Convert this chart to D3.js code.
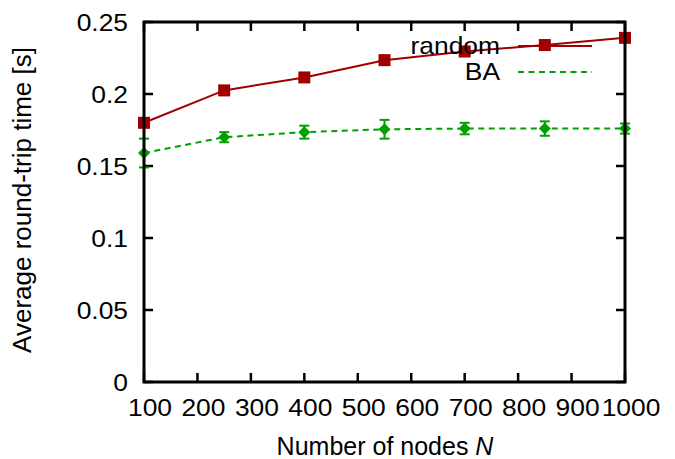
<!DOCTYPE html>
<html>
<head>
<meta charset="utf-8">
<script src="https://cdn.jsdelivr.net/npm/d3@7"></script>
<style>
  body { margin: 0; background: #fff; }
  text { font-family: "Liberation Sans", Arial, sans-serif; fill: #000; }
</style>
</head>
<body>
<svg id="chart" width="675" height="459"></svg>
<script>
// data
const nodes = [100, 250, 400, 550, 700, 850, 1000];
const randomRtt = [0.180, 0.2025, 0.2115, 0.2235, 0.2295, 0.234, 0.239];
const baRtt = [0.159, 0.1700, 0.1735, 0.1755, 0.1760, 0.1760, 0.1760];
const baErr = [0.010, 0.0035, 0.0045, 0.0065, 0.004, 0.005, 0.0035];
const xTicks = [100, 200, 300, 400, 500, 600, 700, 800, 900, 1000];
const yTicks = [0, 0.05, 0.1, 0.15, 0.2, 0.25];

const margin = {top: 22, right: 50, bottom: 77, left: 144};
const width = 675 - margin.left - margin.right;
const height = 459 - margin.top - margin.bottom;

const svg = d3.select("#chart");
const g = svg.append("g").attr("transform", `translate(${margin.left},${margin.top})`);

const x = d3.scaleLinear().domain([100, 1000]).range([0, width]);
const y = d3.scaleLinear().domain([0, 0.25]).range([height, 0]);

// the original text is a little wider than Liberation Sans
const stretch = 1.1;
function label(parent, px, py, str, size, anchor) {
  return parent.append("text")
    .attr("transform", `translate(${px},${py}) scale(${stretch},1)`)
    .attr("text-anchor", anchor).attr("font-size", size)
    .text(str);
}

// ticks, inward on all four sides
const tickLen = 9;
function fmtY(d) { return d === 0 ? "0" : String(+d.toFixed(2)); }

const ticks = g.append("g").attr("stroke", "#000").attr("stroke-width", 2.5);
xTicks.forEach(t => {
  ticks.append("line").attr("x1", x(t)).attr("x2", x(t)).attr("y1", height).attr("y2", height - tickLen);
  ticks.append("line").attr("x1", x(t)).attr("x2", x(t)).attr("y1", 0).attr("y2", tickLen);
});
yTicks.forEach(t => {
  ticks.append("line").attr("x1", 0).attr("x2", tickLen).attr("y1", y(t)).attr("y2", y(t));
  ticks.append("line").attr("x1", width).attr("x2", width - tickLen).attr("y1", y(t)).attr("y2", y(t));
});

const xLab = g.append("g");
xTicks.forEach(t => label(xLab, x(t) + 6, height + 34, t, 24, "middle"));

const yLab = g.append("g");
yTicks.forEach(t => label(yLab, -16, y(t) + 8.5, fmtY(t), 24, "end"));

// axis titles
svg.append("text")
  .attr("x", 385).attr("y", 455)
  .attr("text-anchor", "middle").attr("font-size", 25)
  .html('Number of nodes <tspan font-style="italic">N</tspan>');

svg.append("text")
  .attr("transform", `translate(31,200) rotate(-90)`)
  .attr("text-anchor", "middle").attr("font-size", 26)
  .text("Average round-trip time [s]");

// legend
const legend = svg.append("g");
label(legend, 500, 54, "random", 24, "end");
legend.append("line").attr("x1", 518).attr("x2", 592).attr("y1", 46).attr("y2", 46)
  .attr("stroke", "#a00000").attr("stroke-width", 2);
label(legend, 500, 80, "BA", 24, "end");
legend.append("line").attr("x1", 518).attr("x2", 592).attr("y1", 72).attr("y2", 72)
  .attr("stroke", "#00a000").attr("stroke-width", 2).attr("stroke-dasharray", "6,4.5");

// BA series
const baData = nodes.map((n, i) => ({n: n, v: baRtt[i], e: baErr[i]}));
const line = d3.line().x(d => x(d.n)).y(d => y(d.v));

g.append("path").datum(baData)
  .attr("fill", "none").attr("stroke", "#00a000").attr("stroke-width", 2)
  .attr("stroke-dasharray", "6,4.5").attr("d", line);

const errG = g.append("g").attr("stroke", "#00a000").attr("stroke-width", 2);
baData.forEach(d => {
  const cx = x(d.n), y0 = y(d.v - d.e), y1 = y(d.v + d.e);
  errG.append("line").attr("x1", cx).attr("x2", cx).attr("y1", y0).attr("y2", y1);
  errG.append("line").attr("x1", cx - 5).attr("x2", cx + 5).attr("y1", y0).attr("y2", y0);
  errG.append("line").attr("x1", cx - 5).attr("x2", cx + 5).attr("y1", y1).attr("y2", y1);
});

g.append("g").selectAll("path").data(baData).join("path")
  .attr("transform", d => `translate(${x(d.n)},${y(d.v)})`)
  .attr("d", "M0,-6L6,0L0,6L-6,0Z")
  .attr("fill", "#00a000");

// random series
const rndData = nodes.map((n, i) => ({n: n, v: randomRtt[i]}));
g.append("path").datum(rndData)
  .attr("fill", "none").attr("stroke", "#a00000").attr("stroke-width", 2)
  .attr("d", line);

g.append("g").selectAll("rect").data(rndData).join("rect")
  .attr("x", d => x(d.n) - 6).attr("y", d => y(d.v) - 6)
  .attr("width", 12).attr("height", 12)
  .attr("fill", "#a00000");

// frame
g.append("rect").attr("width", width).attr("height", height)
  .attr("fill", "none").attr("stroke", "#000").attr("stroke-width", 3);
</script>
</body>
</html>
